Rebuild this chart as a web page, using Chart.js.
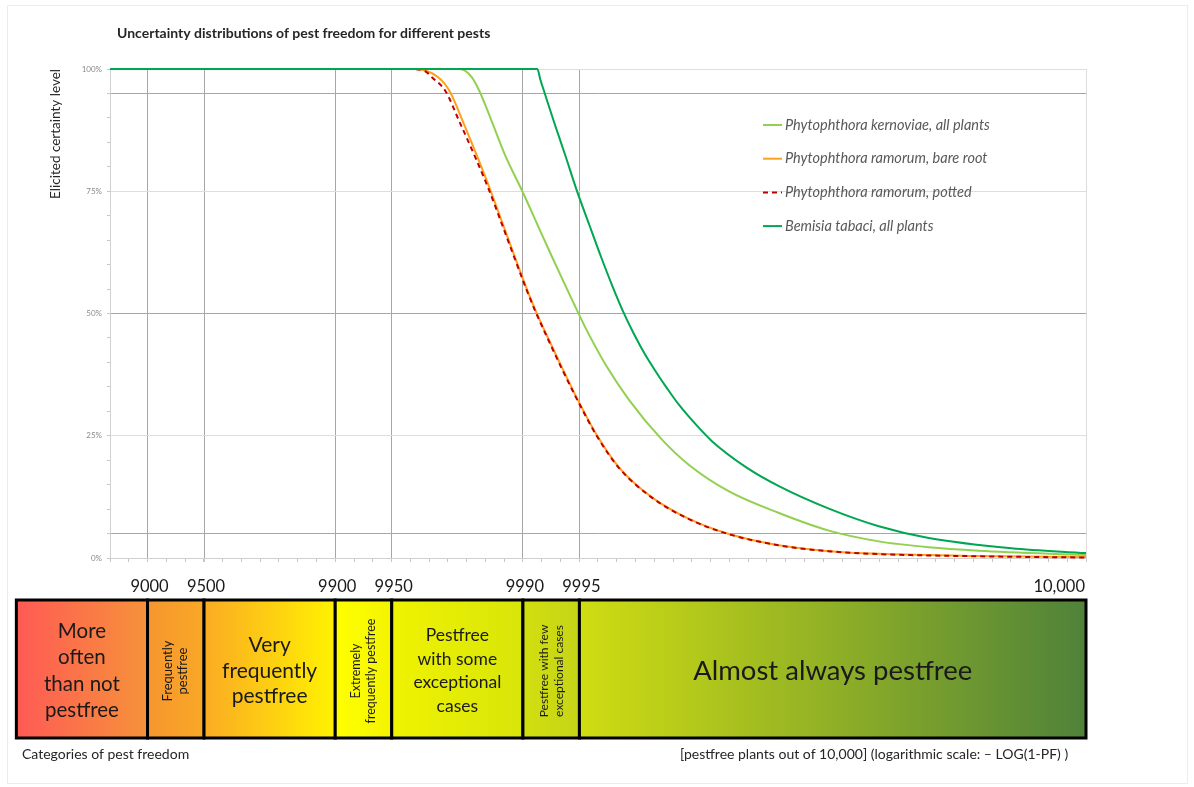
<!DOCTYPE html>
<html>
<head>
<meta charset="utf-8">
<title>Uncertainty distributions of pest freedom for different pests</title>
<script src="https://cdn.jsdelivr.net/npm/chart.js@4.4.1/dist/chart.umd.min.js"></script>
<style>
  html, body { margin: 0; padding: 0; background: #fff; }
</style>
</head>
<body>
<canvas id="chart" width="1194" height="787"></canvas>
<script>
// x axis = -LOG10(1-PF), y axis = elicited certainty level (%)
const X_MIN = 0.8;
const X_MAX = 6;

// curves (x in -LOG(1-PF) units, y in %)
const kernoviaeX = [0.8, 2.662, 2.726, 2.768, 2.832, 2.906, 2.997, 3.077, 3.156, 3.220, 3.284, 3.337, 3.444, 3.566, 3.736, 3.885, 4.098, 4.364, 4.630, 4.896, 5.162, 5.428, 6.0];
const kernoviaeY = [100, 100, 98.4, 95.5, 89.5, 82.3, 75.0, 68.2, 61.5, 56.2, 51.0, 46.8, 39.3, 32.3, 24.4, 19.0, 13.6, 9.2, 5.6, 3.4, 2.2, 1.5, 0.6];

const bareRootX = [0.8, 2.428, 2.545, 2.609, 2.683, 2.763, 2.827, 2.890, 2.949, 3.023, 3.071, 3.124, 3.204, 3.289, 3.396, 3.513, 3.688, 3.885, 4.098, 4.364, 4.630, 4.896, 5.428, 6.0];
const bareRootY = [100, 100, 98.4, 95.5, 89.0, 81.5, 75.2, 68.6, 62.4, 54.8, 50.3, 45.8, 39.3, 32.6, 25.0, 18.5, 12.4, 8.0, 4.9, 2.6, 1.4, 0.85, 0.4, 0.2];

const pottedX = [0.8, 2.396, 2.476, 2.518, 2.587, 2.662, 2.750, 2.820, 2.885, 2.945, 3.020, 3.068, 3.121, 3.200, 3.286, 3.393, 3.510, 3.685, 3.882, 4.095, 4.361, 4.627, 4.893, 5.425, 6.0];
const pottedY = [100, 100, 99.6, 98.2, 95.5, 89.2, 81.6, 75.2, 68.6, 62.4, 54.8, 50.3, 45.8, 39.3, 32.6, 25.0, 18.5, 12.4, 8.0, 4.9, 2.6, 1.4, 0.8, 0.35, 0.1];

const bemisiaX = [0.8, 3.077, 3.093, 3.114, 3.167, 3.226, 3.284, 3.353, 3.417, 3.481, 3.534, 3.593, 3.651, 3.710, 3.768, 3.832, 3.938, 4.007, 4.188, 4.364, 4.630, 4.896, 5.162, 5.603, 6.0];
const bemisiaY = [100, 100, 97.8, 95.3, 89.0, 82.3, 75.5, 68.2, 61.5, 55.2, 50.4, 45.7, 41.6, 38.0, 34.7, 31.3, 26.6, 23.9, 18.6, 14.7, 10.1, 6.5, 4.1, 2.0, 1.0];

const seriesNames = [
  'Phytophthora kernoviae, all plants',
  'Phytophthora ramorum, bare root',
  'Phytophthora ramorum, potted',
  'Bemisia tabaci, all plants'
];

// pestfree plants out of 10,000
const gridCounts = [9000, 9500, 9900, 9950, 9990, 9995];
const tickCounts = [9000, 9500, 9900, 9950, 9990, 9995, 10000];
const tickLabels = ['9000', '9500', '9900', '9950', '9990', '9995', '10,000'];

// categories of pest freedom
const categoryBounds = [5000, 9000, 9500, 9900, 9950, 9990, 9995, 10000];
const categoryNames = [
  ['More', 'often', 'than not', 'pestfree'],
  ['Frequently', 'pestfree'],
  ['Very', 'frequently', 'pestfree'],
  ['Extremely', 'frequently pestfree'],
  ['Pestfree', 'with some', 'exceptional', 'cases'],
  ['Pestfree with few', 'exceptional cases'],
  ['Almost always pestfree']
];

// styles
const bandColors = [
  ['#ff5a55', '#f6923a'], ['#f6962f', '#f9a826'], ['#fbab24', '#fff200'],
  ['#ffff00', '#f4f400'], ['#f0f300', '#d8e50a'], ['#d2df0f', '#c5d418'],
  ['#d0dd12', '#4f823a']
];
const bandFont = [20.5, 13, 21, 12.5, 17.5, 12, 27.5];
const bandLine = [26.5, 15, 25.5, 15, 23.5, 15, 30];

const toLog = n => n >= 10000 ? X_MAX : -Math.log10(1 - n / 10000);
const pts = (xs, ys) => xs.map((v, i) => ({ x: v, y: ys[i] }));

Chart.defaults.font.family = 'Lato';

const majorLogs = gridCounts.map(toLog);
const xTickValues = [];
for (let k = 8; k <= 60; k++) xTickValues.push(k / 10);
majorLogs.forEach(v => xTickValues.push(v));
xTickValues.sort((a, b) => a - b);

const near = (a, b) => Math.abs(a - b) < 1e-6;

// titles, legend and the category strip
const decorPlugin = {
  id: 'decor',
  beforeDraw(chart) {
    const ctx = chart.ctx;
    ctx.save();
    ctx.fillStyle = '#fff';
    ctx.fillRect(0, 0, chart.width, chart.height);
    ctx.strokeStyle = '#ececec';
    ctx.lineWidth = 1;
    ctx.strokeRect(7.5, 5.5, 1180, 778);
    ctx.restore();
  },
  afterDatasetsDraw(chart) {
    const ctx = chart.ctx;
    ctx.save();
    // legend inside plot area
    chart.data.datasets.forEach((ds, i) => {
      const y = 125 + i * 33.7;
      ctx.strokeStyle = ds.borderColor;
      ctx.lineWidth = 2;
      ctx.setLineDash(ds.borderDash || []);
      ctx.beginPath();
      ctx.moveTo(763, y);
      ctx.lineTo(782, y);
      ctx.stroke();
      ctx.setLineDash([]);
      ctx.fillStyle = '#595959';
      ctx.font = 'italic 14.5px Lato';
      ctx.textBaseline = 'middle';
      ctx.textAlign = 'left';
      ctx.fillText(ds.label, 785, y);
    });
    ctx.restore();
  },
  afterDraw(chart) {
    const ctx = chart.ctx;
    const x = chart.scales.x;
    ctx.save();

    ctx.fillStyle = '#262626';
    ctx.font = 'bold 14px Lato';
    ctx.textBaseline = 'middle';
    ctx.textAlign = 'left';
    ctx.fillText('Uncertainty distributions of pest freedom for different pests', 117, 33);

    // labels above the strip
    ctx.fillStyle = '#1a1a1a';
    ctx.font = '16.5px Lato';
    tickCounts.forEach((n, i) => {
      const px = x.getPixelForValue(toLog(n));
      ctx.textAlign = n >= 10000 ? 'right' : 'center';
      ctx.fillText(tickLabels[i], n >= 10000 ? px - 1 : px + 2, 587);
    });

    // category boxes
    const top = 600, bottom = 738, mid = (top + bottom) / 2 + 2;
    for (let i = 0; i < categoryNames.length; i++) {
      const x0 = x.getPixelForValue(toLog(categoryBounds[i]));
      const x1 = x.getPixelForValue(toLog(categoryBounds[i + 1]));
      const g = ctx.createLinearGradient(x0, 0, x1, 0);
      g.addColorStop(0, bandColors[i][0]);
      g.addColorStop(1, bandColors[i][1]);
      ctx.fillStyle = g;
      ctx.fillRect(x0, top, x1 - x0, bottom - top);
      ctx.strokeStyle = '#000';
      ctx.lineWidth = 3;
      ctx.strokeRect(x0, top, x1 - x0, bottom - top);

      const lines = categoryNames[i];
      const lh = bandLine[i];
      ctx.fillStyle = '#1a1a1a';
      ctx.font = bandFont[i] + 'px Lato';
      ctx.textAlign = 'center';
      ctx.textBaseline = 'middle';
      const cx = (x0 + x1) / 2;
      const rotate = (x1 - x0) < 70;
      ctx.save();
      ctx.translate(cx, mid);
      if (rotate) ctx.rotate(-Math.PI / 2);
      lines.forEach((t, j) => {
        ctx.fillText(t, 0, (j - (lines.length - 1) / 2) * lh);
      });
      ctx.restore();
    }

    ctx.fillStyle = '#262626';
    ctx.font = '14px Lato';
    ctx.textAlign = 'left';
    ctx.textBaseline = 'middle';
    ctx.fillText('Categories of pest freedom', 22, 754);
    ctx.fillText('[pestfree plants out of 10,000] (logarithmic scale: \u2013 LOG(1-PF) )', 680, 754);
    ctx.restore();
  }
};

new Chart(document.getElementById('chart'), {
  type: 'line',
  data: {
    datasets: [
      { label: seriesNames[0], data: pts(kernoviaeX, kernoviaeY), borderColor: '#92d050', order: 3 },
      { label: seriesNames[1], data: pts(bareRootX, bareRootY), borderColor: '#ffa01c', order: 2 },
      { label: seriesNames[2], data: pts(pottedX, pottedY), borderColor: '#c00000', borderDash: [5, 4], order: 1 },
      { label: seriesNames[3], data: pts(bemisiaX, bemisiaY), borderColor: '#00a651', order: 0 }
    ].map(d => Object.assign({
      borderWidth: 2, pointRadius: 0, fill: false, cubicInterpolationMode: 'monotone',
      clip: { left: 0, top: 3, right: 0, bottom: 3 }
    }, d))
  },
  options: {
    responsive: false,
    animation: false,
    layout: { padding: { left: 0, top: 69, right: 108, bottom: 0 } },
    plugins: { legend: { display: false }, tooltip: { enabled: false } },
    scales: {
      x: {
        type: 'linear',
        min: X_MIN,
        max: X_MAX,
        afterFit: s => { s.height = 787 - 558; },
        afterBuildTicks: s => { s.ticks = xTickValues.map(v => ({ value: v })); },
        ticks: { autoSkip: false, maxRotation: 0, callback: () => '' },
        grid: {
          color: c => {
            const v = c.tick ? c.tick.value : null;
            if (v === null) return 'rgba(0,0,0,0)';
            if (majorLogs.some(m => near(m, v))) return '#a6a6a6';
            if (near(v, X_MAX)) return '#dcdcdc';
            return 'rgba(0,0,0,0)';
          },
          tickColor: '#c8c8c8',
          tickLength: 4
        },
        border: { color: '#d0d0d0' }
      },
      y: {
        min: 0,
        max: 100,
        afterFit: s => { s.width = 110; },
        ticks: {
          stepSize: 5,
          autoSkip: false,
          padding: 5,
          color: '#8a8a8a',
          font: { size: 8 },
          callback: v => v % 25 === 0 ? v + '%' : ''
        },
        grid: {
          color: c => {
            const v = c.tick ? c.tick.value : null;
            if (v === 50 || v === 5 || v === 95) return '#a6a6a6';
            if (v !== null && v % 25 === 0) return '#dedede';
            return 'rgba(0,0,0,0)';
          },
          tickColor: '#c8c8c8',
          tickLength: 3
        },
        border: { color: '#d0d0d0' },
        title: {
          display: true,
          text: 'Elicited certainty level',
          align: 'end',
          color: '#262626',
          font: { size: 13.5 },
          padding: { top: 48, bottom: 0 }
        }
      }
    }
  },
  plugins: [decorPlugin]
});
</script>
</body>
</html>
